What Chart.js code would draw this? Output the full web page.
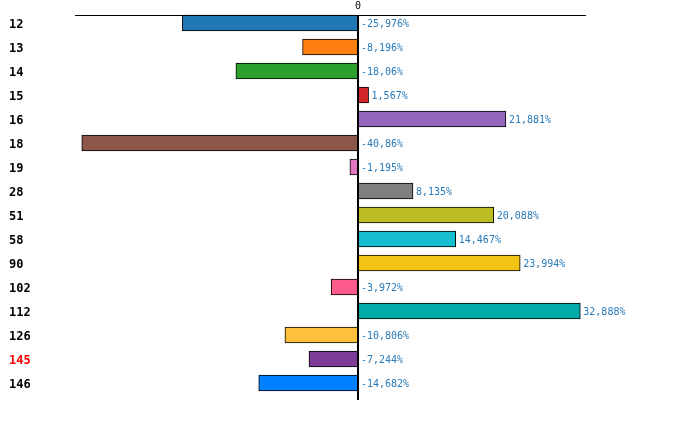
<!DOCTYPE html>
<html>
<head>
<meta charset="utf-8">
<script src="https://cdn.jsdelivr.net/npm/chart.js@4/dist/chart.umd.min.js"></script>
<style>
  html, body { margin: 0; padding: 0; background: #fff; }
  #wrap { width: 700px; height: 429px; }
</style>
</head>
<body>
<div id="wrap"><canvas id="barChart"></canvas></div>
<script>
// categories and values
const categories = ["12", "13", "14", "15", "16", "18", "19", "28", "51", "58", "90", "102", "112", "126", "145", "146"];
const values = [-25.976, -8.196, -18.06, 1.567, 21.881, -40.86, -1.195, 8.135, 20.088, 14.467, 23.994, -3.972, 32.888, -10.806, -7.244, -14.682];
const barColors = ["#1f77b4", "#ff7f0e", "#2ca02c", "#d62728", "#9467bd", "#8c564b", "#e377c2", "#7f7f7f",
  "#bcbd22", "#17becf", "#f2c314", "#ff5a8c", "#00aba8", "#ffc13b", "#7d3c98", "#0080ff"];
const highlighted = "145";
const xTicks = [0];

// zero line, top axis, category and value labels
const decorations = {
  id: "decorations",
  afterDatasetsDraw(chart) {
    const ctx = chart.ctx;
    const area = chart.chartArea;
    const x = chart.scales.x;
    const y = chart.scales.y;
    const zero = x.getPixelForValue(0);
    const top = Math.round(area.top + 4) + 0.5;
    ctx.save();
    ctx.strokeStyle = "#000";
    ctx.lineWidth = 1;
    ctx.beginPath();
    ctx.moveTo(area.left, top);
    ctx.lineTo(area.right, top);
    ctx.stroke();
    ctx.lineWidth = 2;
    ctx.beginPath();
    ctx.moveTo(Math.round(zero), top - 0.5);
    ctx.lineTo(Math.round(zero), area.bottom + 5);
    ctx.stroke();

    ctx.font = "10px 'DejaVu Sans Mono', monospace";
    ctx.fillStyle = "#000";
    ctx.textAlign = "center";
    ctx.textBaseline = "bottom";
    xTicks.forEach((t) => ctx.fillText(String(t), x.getPixelForValue(t), top - 4));

    // category labels
    ctx.font = "bold 12px 'DejaVu Sans Mono', monospace";
    ctx.textAlign = "left";
    ctx.textBaseline = "middle";
    categories.forEach((c, i) => {
      ctx.fillStyle = c === highlighted ? "#ff0000" : "#000";
      ctx.fillText(c, y.left, y.getPixelForTick(i) + 1.5);
    });

    ctx.font = "10px 'DejaVu Sans Mono', monospace";
    ctx.fillStyle = "#2a7ab8";
    const meta = chart.getDatasetMeta(0);
    meta.data.forEach((bar, i) => {
      const v = values[i];
      const end = Math.max(zero, x.getPixelForValue(v));
      const label = String(v).replace(".", ",") + "%";
      ctx.fillText(label, end + 3, bar.y + 1.5);
    });
    ctx.restore();
  }
};

const ctx = document.getElementById("barChart").getContext("2d");
const barChart = new Chart(ctx, {
  type: "bar",
  data: {
    labels: categories,
    datasets: [{
      data: values,
      backgroundColor: barColors,
      borderColor: "#000",
      borderWidth: 1,
      borderSkipped: false,
      barThickness: 16
    }]
  },
  options: {
    indexAxis: "y",
    responsive: true,
    maintainAspectRatio: false,
    animation: false,
    layout: { padding: { left: 9, right: 114, top: 11, bottom: 34 } },
    plugins: {
      legend: { display: false },
      tooltip: { enabled: false }
    },
    scales: {
      x: {
        display: false,
        min: -41.86,
        max: 33.73
      },
      y: {
        grid: { display: false },
        border: { display: false },
        afterFit: (scale) => { scale.width = 66; },
        ticks: { display: false }
      }
    }
  },
  plugins: [decorations]
});
</script>
</body>
</html>
